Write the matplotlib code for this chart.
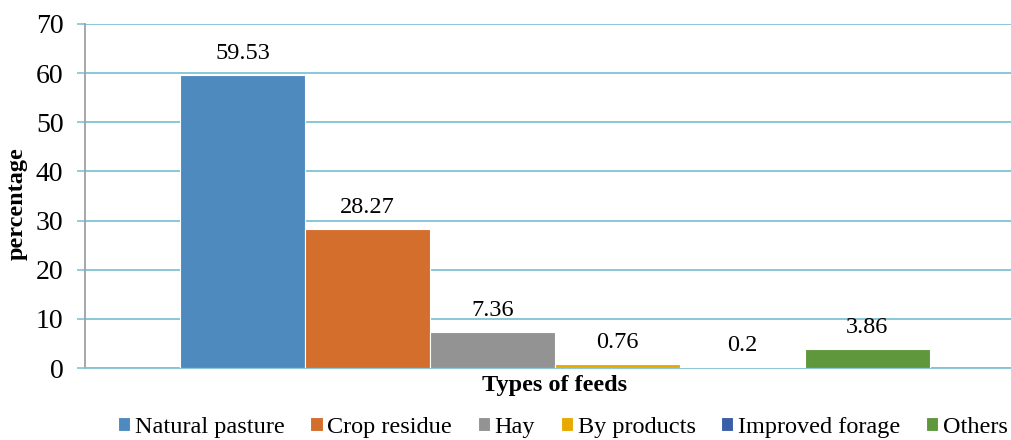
import numpy as np
import matplotlib.pyplot as plt

# feed types and share of households (%)
feeds = ['Natural pasture', 'Crop residue', 'Hay', 'By products', 'Improved forage', 'Others']
percent = [59.53, 28.27, 7.36, 0.76, 0.2, 3.86]
colors = ['#4f8abe', '#d46e2c', '#939393', '#e8a900', '#3a5ea8', '#5f983c']

plt.rcParams['font.family'] = ['Liberation Serif', 'DejaVu Serif']

fig = plt.figure(figsize=(10.11, 4.4), dpi=100)
ax = fig.add_axes([85 / 1011, 1 - 368 / 440, 1 - 85 / 1011, 344 / 440])

width = 0.8 / len(feeds)
for i, (name, val, c) in enumerate(zip(feeds, percent, colors)):
    x = -0.4 + width * (i + 0.5)
    ax.bar(x, val, width, color=c, edgecolor='white', linewidth=0.8, label=name, zorder=3)
    ax.annotate(f'{val:g}', (x, val), xytext=(0, 8), textcoords='offset points',
                ha='center', va='bottom', fontsize=17.5)

ax.set_xlim(-0.5013, 0.4864)
ax.set_ylim(0, 70)
ax.set_yticks(range(0, 71, 10))
ax.set_xticks([])
ax.tick_params(axis='y', labelsize=20, length=6, width=1.2, color='#7fc4d6', pad=9.5)
ax.grid(axis='y', color='#7fc4d6', linewidth=1.3, zorder=0)
for s in ['top', 'right']:
    ax.spines[s].set_visible(False)
ax.spines['left'].set_color('#a0a0a0')
ax.spines['left'].set_linewidth(1.3)
ax.spines['bottom'].set_color('#7fc4d6')
ax.spines['bottom'].set_linewidth(1.3)

cx = (555 - 85) / (1011 - 85)
ax.set_ylabel('percentage', fontsize=17.5, fontweight='bold')
ax.yaxis.set_label_coords(-57 / 926, 0.477)
ax.set_xlabel('Types of feeds', fontsize=17.5, fontweight='bold')
ax.xaxis.set_label_coords(cx, -0.02)

ax.legend(loc='center', bbox_to_anchor=(cx + 8 / 926, -0.172), ncol=6,
          frameon=False, fontsize=17.5, handlelength=0.5, handleheight=0.5,
          handletextpad=0.2, columnspacing=1.05, borderpad=0, borderaxespad=0)

fig.savefig('out.png', dpi=100)
